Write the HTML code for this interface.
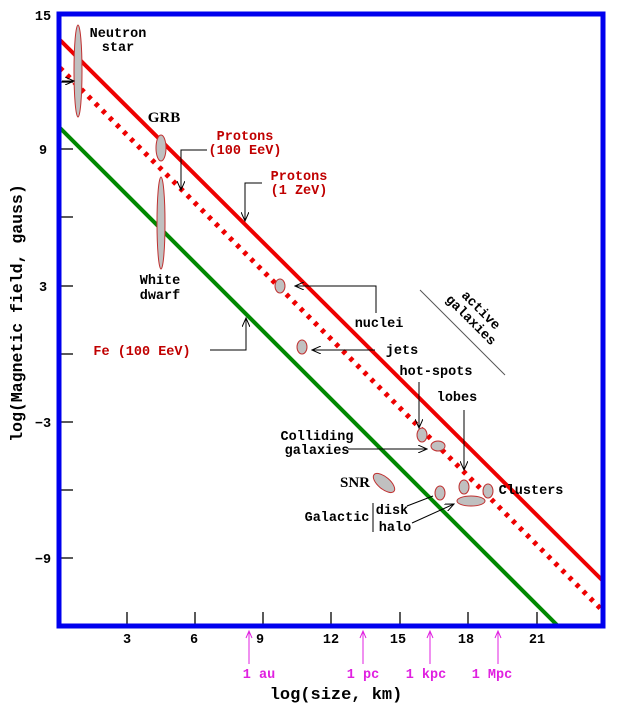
<!DOCTYPE html>
<html><head><style>body{margin:0;background:#fff}svg{display:block}text{font-family:"Liberation Mono",monospace;font-weight:bold;font-size:13.5px}</style></head><body>
<svg width="641" height="708" viewBox="0 0 641 708">
<defs><marker id="a" markerWidth="10" markerHeight="8" refX="9" refY="4" orient="auto" markerUnits="userSpaceOnUse"><path d="M0,0L9,4L0,8" fill="none" stroke="#000" stroke-width="1"/></marker></defs>
<g stroke="#000" stroke-width="1.3">
<line x1="60" y1="82" x2="73" y2="82"/><line x1="60" y1="149" x2="73" y2="149"/><line x1="60" y1="217" x2="73" y2="217"/><line x1="60" y1="286" x2="73" y2="286"/><line x1="60" y1="354" x2="73" y2="354"/><line x1="60" y1="422" x2="73" y2="422"/><line x1="60" y1="490" x2="73" y2="490"/><line x1="60" y1="558" x2="73" y2="558"/>
<line x1="127" y1="626" x2="127" y2="612"/><line x1="195" y1="626" x2="195" y2="612"/><line x1="263" y1="626" x2="263" y2="612"/><line x1="331" y1="626" x2="331" y2="612"/><line x1="400" y1="626" x2="400" y2="612"/><line x1="468" y1="626" x2="468" y2="612"/><line x1="537" y1="626" x2="537" y2="612"/>
</g>
<line x1="60" y1="40" x2="602" y2="580" stroke="#e00" stroke-width="4"/>
<line x1="60" y1="68" x2="602" y2="610" stroke="#e00" stroke-width="5" stroke-dasharray="4,6"/>
<line x1="60" y1="128" x2="558" y2="626" stroke="#080" stroke-width="4"/>
<g fill="#c0c0c0" stroke="#c03030" stroke-width="1">
<ellipse cx="78" cy="71" rx="4" ry="46"/><ellipse cx="161" cy="148" rx="5" ry="13"/><ellipse cx="161" cy="223" rx="4" ry="46"/>
<ellipse cx="280" cy="286" rx="5" ry="7"/><ellipse cx="302" cy="347" rx="5" ry="7"/><ellipse cx="422" cy="435" rx="5" ry="7"/><ellipse cx="438" cy="446" rx="7" ry="5"/>
<ellipse cx="384" cy="483" rx="13" ry="6" transform="rotate(40 384 483)"/><ellipse cx="440" cy="493" rx="5" ry="7"/><ellipse cx="464" cy="487" rx="5" ry="7"/><ellipse cx="488" cy="491" rx="5" ry="7"/><ellipse cx="471" cy="501" rx="14" ry="5"/>
</g>
<g fill="none" stroke="#000" stroke-width="1">
<polyline points="207,150 181,150 181,190" marker-end="url(#a)"/>
<polyline points="262,183 245,183 245,221" marker-end="url(#a)"/>
<polyline points="210,350 246,350 246,318" marker-end="url(#a)"/>
<polyline points="376,313 376,286 295,286" marker-end="url(#a)"/>
<line x1="375" y1="350" x2="312" y2="350" marker-end="url(#a)"/>
<line x1="419" y1="382" x2="419" y2="428" marker-end="url(#a)"/>
<line x1="464" y1="410" x2="464" y2="470" marker-end="url(#a)"/>
<line x1="348" y1="449" x2="427" y2="449" marker-end="url(#a)"/>
<line x1="407" y1="506" x2="433" y2="496"/>
<line x1="412" y1="523" x2="454" y2="504" marker-end="url(#a)"/>
<line x1="373" y1="503" x2="373" y2="532"/>
<line x1="62" y1="81" x2="74" y2="81" marker-end="url(#a)"/>
<line x1="420" y1="290" x2="505" y2="375" stroke="#555"/>
</g>
<rect x="59" y="14" width="544" height="612" fill="none" stroke="#0000ee" stroke-width="5"/>
<g text-anchor="middle">
<text x="118" y="37">Neutron</text><text x="118" y="51">star</text>
<text x="164" y="122" style="font-family:'Liberation Serif',serif;font-size:15px">GRB</text>
<text x="160" y="284">White</text><text x="160" y="299">dwarf</text>
<g fill="#c00000" style="font-size:15.5px"><text x="245" y="140">Protons</text><text x="245" y="154">(100 EeV)</text><text x="299" y="180">Protons</text><text x="299" y="194">(1 ZeV)</text><text x="142" y="355">Fe (100 EeV)</text></g>
<text x="379" y="327">nuclei</text><text x="402" y="354">jets</text><text x="436" y="375">hot-spots</text><text x="457" y="401">lobes</text>
<text x="317" y="440">Colliding</text><text x="317" y="454">galaxies</text>
<text x="355" y="487" style="font-family:'Liberation Serif',serif;font-size:15px">SNR</text>
<text x="531" y="494">Clusters</text><text x="337" y="521">Galactic</text><text x="392" y="514">disk</text><text x="395" y="531">halo</text>
<g transform="translate(478,313) rotate(45)"><text x="0" y="0">active</text><text x="0" y="14">galaxies</text></g>
<g style="font-size:15px"><text x="43" y="20">15</text><text x="43" y="154">9</text><text x="43" y="291">3</text><text x="43" y="427">−3</text><text x="43" y="563">−9</text>
<text x="127" y="643">3</text><text x="194" y="643">6</text><text x="260" y="643">9</text><text x="331" y="643">12</text><text x="398" y="643">15</text><text x="466" y="643">18</text><text x="537" y="643">21</text></g>
<g fill="#e020e0" style="font-size:15px"><text x="259" y="678">1 au</text><text x="363" y="678">1 pc</text><text x="426" y="678">1 kpc</text><text x="492" y="678">1 Mpc</text></g>
<text x="336" y="699" style="font-size:17px">log(size, km)</text>
<text transform="translate(22,313) rotate(-90)" style="font-size:16.5px">log(Magnetic field, gauss)</text>
</g>
<g stroke="#e020e0" fill="none" stroke-width="1">
<path d="M249,664V632M246,638L249,631L252,638"/><path d="M363,664V632M360,638L363,631L366,638"/><path d="M430,664V632M427,638L430,631L433,638"/><path d="M498,664V632M495,638L498,631L501,638"/>
</g>
</svg></body></html>
